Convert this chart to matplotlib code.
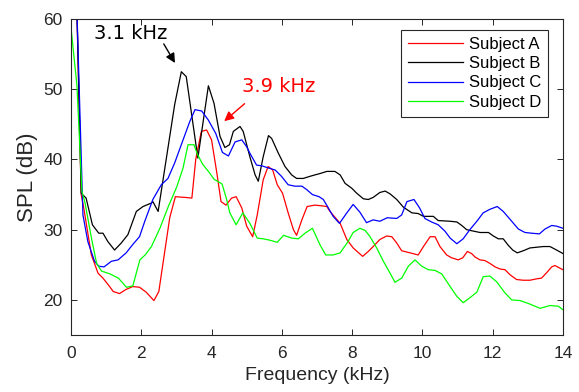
import matplotlib
matplotlib.use("Agg")
import matplotlib.pyplot as plt

# frequency (kHz) / SPL (dB)
freq_a = [0, 0.17, 0.29, 0.36, 0.58, 0.77, 0.91, 1.10, 1.20, 1.38, 1.57, 1.76, 1.95, 2.14,
          2.36, 2.50, 2.81, 2.97, 3.24, 3.44, 3.55, 3.71, 3.86, 4.00, 4.15, 4.27, 4.41, 4.57,
          4.70, 4.86, 5.00, 5.17, 5.30, 5.47, 5.61, 5.74, 5.87, 6.02, 6.18, 6.33, 6.42, 6.57,
          6.72, 6.94, 7.13, 7.28, 7.37, 7.66, 7.85, 8.03, 8.30, 8.46, 8.60, 8.79, 8.98, 9.13,
          9.27, 9.41, 9.65, 9.88, 10.03, 10.22, 10.36, 10.50, 10.69, 10.83, 11.02, 11.15,
          11.28, 11.40, 11.50, 11.64, 11.78, 11.92, 12.07, 12.21, 12.35, 12.49, 12.68, 12.87,
          13.06, 13.25, 13.39, 13.54, 13.68, 13.77, 13.92, 14.0]
spl_a = [90, 61, 35.0, 33.2, 26.4, 23.8, 23.1, 21.9, 21.2, 20.9, 21.5, 21.9, 21.8, 21.1,
         19.9, 21.2, 31.7, 34.7, 34.6, 34.5, 40.0, 44.0, 44.2, 42.8, 38.1, 34.0, 33.5, 34.5,
         34.7, 33.1, 30.5, 29.0, 32.1, 37.1, 39.0, 38.5, 36.4, 35.2, 32.4, 30.0, 29.2, 31.4,
         33.3, 33.5, 33.4, 33.3, 32.6, 30.9, 28.6, 27.4, 26.2, 26.9, 27.6, 28.6, 29.1, 29.0,
         28.1, 27.0, 26.7, 26.4, 27.6, 29.0, 29.0, 27.6, 26.4, 26.0, 25.7, 26.0,
         26.9, 26.6, 26.1, 25.7, 25.6, 25.2, 24.7, 24.4, 24.3, 23.6, 22.9, 22.8,
         22.8, 23.0, 23.1, 23.9, 24.7, 24.9, 24.5, 24.3]

freq_b = [0, 0.17, 0.29, 0.43, 0.61, 0.79, 0.91, 1.05, 1.24, 1.43, 1.62, 1.86, 2.05, 2.29,
          2.33, 2.48, 2.95, 3.14, 3.28, 3.61, 3.91, 4.07, 4.24, 4.38, 4.51, 4.62, 4.81, 4.90,
          5.09, 5.24, 5.33, 5.47, 5.62, 5.71, 5.90, 6.09, 6.28, 6.42, 6.61, 6.80, 6.94, 7.09,
          7.28, 7.51, 7.66, 7.80, 7.99, 8.13, 8.32, 8.46, 8.60, 8.79, 8.94, 9.08, 9.27, 9.46,
          9.70, 9.88, 10.03, 10.31, 10.45, 10.79, 10.98, 11.12, 11.26, 11.45, 11.64, 11.88,
          12.02, 12.16, 12.30, 12.44, 12.57, 12.70, 12.87, 13.06, 13.25, 13.44, 13.63, 13.82, 14.0]
spl_b = [90, 61, 35.2, 34.5, 30.7, 29.5, 29.5, 28.3, 27.1, 28.1, 29.3, 32.6, 33.3, 33.8,
         34.0, 32.6, 47.8, 52.5, 51.8, 40.2, 50.5, 48.0, 43.3, 41.7, 42.1, 44.0, 44.7, 44.0,
         40.4, 37.8, 36.9, 40.4, 43.4, 43.0, 40.9, 39.0, 37.8, 37.3, 37.3, 37.6, 37.8, 38.0,
         38.3, 38.3, 37.8, 36.6, 35.9, 35.2, 34.4, 34.3, 34.6, 35.3, 35.5, 35.1, 34.3, 33.2,
         32.4, 32.3, 31.9, 31.9, 31.3, 31.2, 31.1, 30.6, 30.0, 29.8, 29.6, 29.6,
         29.1, 28.7, 28.7, 27.8, 27.1, 26.7, 27.0, 27.4, 27.5, 27.6, 27.6, 27.1, 26.6]

freq_c = [0, 0.17, 0.34, 0.48, 0.67, 0.79, 0.94, 1.15, 1.34, 1.57, 1.76, 1.95, 2.10, 2.33,
          2.57, 2.76, 2.95, 3.19, 3.38, 3.53, 3.72, 3.91, 4.12, 4.31, 4.48, 4.67, 4.86, 5.00,
          5.09, 5.28, 5.43, 5.61, 5.81, 5.99, 6.18, 6.37, 6.57, 6.71, 6.87, 7.06, 7.18, 7.30,
          7.46, 7.64, 7.85, 8.03, 8.22, 8.41, 8.60, 8.79, 9.00, 9.27, 9.41, 9.56, 9.76, 9.92,
          10.07, 10.26, 10.45, 10.64, 10.79, 10.98, 11.16, 11.35, 11.55, 11.73, 11.92, 12.13,
          12.30, 12.49, 12.73, 12.92, 13.11, 13.33, 13.49, 13.68, 13.82, 14.0]
spl_c = [90, 61, 32.1, 28.3, 25.5, 24.8, 24.7, 25.5, 25.7, 26.7, 27.9, 29.0, 31.2, 34.3,
         36.4, 37.3, 39.5, 42.8, 45.4, 47.1, 46.9, 45.6, 43.7, 41.0, 40.5, 42.5, 42.8, 41.8,
         40.9, 39.2, 39.1, 38.8, 38.5, 37.6, 36.4, 36.2, 36.2, 35.7, 35.0, 34.7, 34.3, 33.3,
         31.9, 30.9, 32.4, 33.6, 32.5, 31.0, 31.4, 31.2, 31.7, 31.6, 32.1, 34.0, 34.3, 33.1,
         31.6, 31.1, 30.7, 29.8, 28.8, 28.0, 28.7, 30.0, 31.2, 32.4, 32.9, 33.3,
         32.6, 31.5, 30.1, 29.6, 29.5, 29.4, 30.1, 30.6, 30.5, 30.2]

freq_d = [0, 0.17, 0.31, 0.40, 0.59, 0.73, 0.87, 1.11, 1.35, 1.58, 1.76, 1.96, 2.11, 2.29,
          2.53, 2.77, 3.01, 3.19, 3.33, 3.50, 3.60, 3.75, 3.91, 4.07, 4.30, 4.43, 4.52, 4.70,
          4.89, 5.09, 5.30, 5.47, 5.66, 5.87, 6.05, 6.28, 6.47, 6.66, 6.87, 7.09, 7.25, 7.46,
          7.66, 7.87, 8.03, 8.22, 8.37, 8.51, 8.70, 8.89, 9.08, 9.22, 9.41, 9.60, 9.79, 9.98,
          10.17, 10.36, 10.55, 10.79, 10.98, 11.16, 11.35, 11.55, 11.73, 11.92, 12.11, 12.35,
          12.54, 12.78, 13.01, 13.35, 13.63, 13.87, 14.0]
spl_d = [58.8, 50.5, 35.5, 33.8, 28.6, 25.2, 24.1, 23.7, 23.1, 21.8, 22.0, 25.7, 26.4, 27.6,
         30.2, 33.3, 36.1, 38.8, 42.1, 42.1, 40.7, 39.3, 38.3, 37.2, 36.5, 34.3, 32.4, 30.7,
         32.4, 30.9, 28.8, 28.7, 28.5, 28.2, 29.2, 28.8, 28.7, 29.5, 30.2, 27.8, 26.4, 26.4,
         26.7, 28.2, 29.6, 30.2, 29.9, 29.0, 27.4, 25.5, 23.8, 22.5, 23.1, 24.8, 25.7, 24.8,
         24.3, 24.2, 23.7, 21.9, 20.5, 19.6, 20.3, 21.1, 23.3, 23.4, 22.6, 21.0,
         20.0, 19.9, 19.5, 18.8, 19.2, 19.1, 18.6]

labels = ["Subject A", "Subject B", "Subject C", "Subject D"]
colors = ["#ff0000", "#000000", "#0000ff", "#00ff00"]

plt.rcParams["font.family"] = ["Liberation Sans", "DejaVu Sans"]

fig = plt.figure(figsize=(5.79, 3.92), dpi=100)
ax = fig.add_axes([0.1226, 0.1454, 0.8497, 0.806])

series = [(freq_a, spl_a), (freq_b, spl_b), (freq_c, spl_c), (freq_d, spl_d)]
for (f, s), lab, col in zip(series, labels, colors):
    ax.plot(f, s, color=col, lw=0.9, label=lab)

ax.set_xlim(0, 14)
ax.set_ylim(15, 60)
ax.set_xticks(range(0, 15, 2))
ax.set_yticks(range(20, 61, 10))
ax.tick_params(direction="in", top=True, right=True, length=4, width=0.7,
               color="#262626", labelsize=12.5, labelcolor="#262626")
ax.tick_params(axis="x", pad=8)
ax.tick_params(axis="y", pad=6)
for sp in ax.spines.values():
    sp.set_color("#262626")
    sp.set_linewidth(0.8)

ax.set_xlabel("Frequency (kHz)", fontsize=14, color="#262626", labelpad=4)
ax.set_ylabel("SPL (dB)", fontsize=16, color="#262626", labelpad=4)

leg = ax.legend(loc="upper right", bbox_to_anchor=(0.9695, 0.965), borderaxespad=0,
                fontsize=12, handlelength=3.3, handletextpad=0.36, labelspacing=0.25,
                borderpad=0.42, fancybox=False, framealpha=1)
leg.get_frame().set_edgecolor("#262626")
leg.get_frame().set_linewidth(0.8)

ax.text(1.71, 57.9, "3.1 kHz", fontsize=14, family="DejaVu Sans", color="black",
        ha="center", va="center")
ax.annotate("", xy=(3.0, 53.4), xytext=(2.6, 56.8),
            arrowprops=dict(arrowstyle="-|>", color="black", lw=1, mutation_scale=14))
ax.text(5.9, 50.4, "3.9 kHz", fontsize=14, family="DejaVu Sans", color="red",
        ha="center", va="center")
ax.annotate("", xy=(4.3, 45.2), xytext=(5.0, 48.2),
            arrowprops=dict(arrowstyle="-|>", color="red", lw=1, mutation_scale=14))

fig.savefig("out.png", dpi=100)
